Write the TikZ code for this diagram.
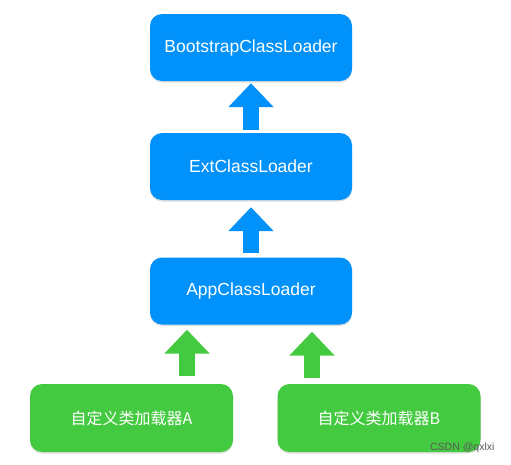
\documentclass[tikz,border=0pt]{standalone}
\usepackage{fontspec}
\setmainfont{Liberation Sans}
\newfontfamily\cjk{Noto Sans CJK SC}
\usetikzlibrary{arrows.meta,shadows}
\definecolor{cblue}{RGB}{0,145,250}
\definecolor{cgreen}{RGB}{68,202,64}
\tikzset{
  loader/.style={rounded corners=12pt, minimum width=202pt, minimum height=67pt,
    inner sep=0pt, text=white, font=\fontsize{17.5}{20}\selectfont,
    drop shadow={opacity=0.25, shadow xshift=0pt, shadow yshift=-1.5pt}},
  bluebox/.style={loader, fill=cblue},
  greenbox/.style={loader, fill=cgreen, minimum width=203pt, minimum height=68pt,
    font=\fontsize{16}{20}\selectfont\cjk},
  blockarrow/.style={line width=16pt, line cap=butt,
    -{Triangle[width=44pt,length=24pt]}},
}
\begin{document}
\begin{tikzpicture}[x=1pt,y=-1pt]
\useasboundingbox (0,0) rectangle (511,464);
\node[bluebox] (boot) at (251,47.5) {BootstrapClassLoader};
\node[bluebox] (ext) at (251,166.5) {ExtClassLoader};
\node[bluebox] (app) at (251,291) {AppClassLoader};
\node[greenbox] (ca) at (131.5,418) {自定义类加载器A};
\node[greenbox] (cb) at (379,418) {自定义类加载器B};
\coordinate (gl) at (187,0);
\coordinate (gr) at (312,0);
\draw[blockarrow, color=cblue, shorten >=2pt, shorten <=3pt] (ext.north) -- (boot.south);
\draw[blockarrow, color=cblue, shorten >=7pt, shorten <=4pt] (app.north) -- (ext.south);
\draw[blockarrow, color=cgreen, shorten >=5pt, shorten <=8pt] (ca.north -| gl) -- (app.south -| gl);
\draw[blockarrow, color=cgreen, shorten >=7pt, shorten <=6pt] (cb.north -| gr) -- (app.south -| gr);
\node[text=black!65, font=\fontsize{10.5}{12}\selectfont, anchor=east] (wm) at (498,448) {CSDN @qxlxi};
\end{tikzpicture}
\end{document}
